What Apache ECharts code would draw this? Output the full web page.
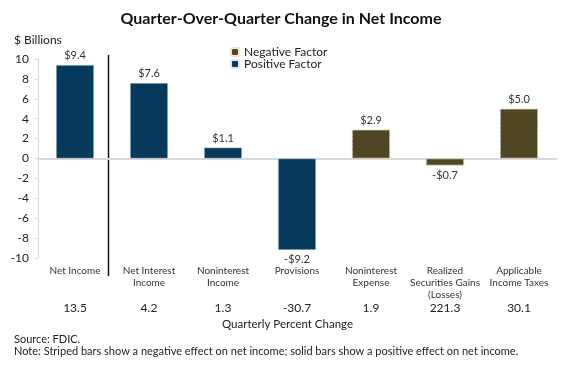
<!DOCTYPE html>
<html>
<head>
<meta charset="utf-8">
<script src="https://cdn.jsdelivr.net/npm/echarts@6/dist/echarts.min.js"></script>
<style>html,body{margin:0;padding:0;background:#fff}#c{width:562px;height:370px}</style>
</head>
<body>
<div id="c"></div>
<script>
const categories = ['Net Income', 'Net Interest\nIncome', 'Noninterest\nIncome', 'Provisions', 'Noninterest\nExpense', 'Realized\nSecurities Gains\n(Losses)', 'Applicable\nIncome Taxes'];
const values = [9.4, 7.6, 1.1, -9.2, 2.9, -0.7, 5.0];
const factors = ['positive', 'positive', 'positive', 'positive', 'negative', 'negative', 'negative'];
const pctChange = ['13.5', '4.2', '1.3', '-30.7', '1.9', '221.3', '30.1'];
const yTicks = { min: -10, max: 10, interval: 2 };

const FONT = 'Lato, "Open Sans", sans-serif';
const NAVY = '#063a5c';
const OLIVE = '#4d4321';

function fmt(v) { return (v < 0 ? '-$' : '$') + Math.abs(v).toFixed(1); }
function seriesData(kind) {
  return values.map((v, i) => factors[i] === kind ? {
    value: v,
    label: { position: v >= 0 ? 'top' : 'bottom' }
  } : '-');
}

const chart = echarts.init(document.getElementById('c'), null, { renderer: 'canvas' });
const labelCommon = {
  show: true, formatter: p => fmt(p.value), fontFamily: FONT, fontSize: 11, color: '#333', distance: 4
};
chart.setOption({
  animation: false,
  textStyle: { fontFamily: FONT },
  title: {
    text: 'Quarter-Over-Quarter Change in Net Income',
    left: 'center', top: 6,
    textStyle: { fontFamily: FONT, fontSize: 16, fontWeight: 'bold', color: '#111' }
  },
  legend: {
    orient: 'vertical', left: 225, top: 41,
    itemWidth: 8, itemHeight: 8, itemGap: 0,
    textStyle: { fontFamily: FONT, fontSize: 12, lineHeight: 12, color: '#222' },
    data: ['Negative Factor', 'Positive Factor']
  },
  grid: { left: 38, right: 6, top: 59, bottom: 112, containLabel: false },
  xAxis: [
    { type: 'category', data: categories, axisLine: { onZero: true, lineStyle: { color: '#d9d9d9', width: 2 } },
      axisTick: { show: false }, axisLabel: { show: false } },
    { type: 'category', data: categories, position: 'bottom', axisLine: { show: false, onZero: false },
      axisTick: { show: false },
      axisLabel: { fontFamily: FONT, fontSize: 10, color: '#333', lineHeight: 12, margin: 7, interval: 0 } },
    { type: 'category', data: pctChange, position: 'bottom', offset: 42, axisLine: { show: false, onZero: false },
      axisTick: { show: false },
      axisLabel: { fontFamily: FONT, fontSize: 12, color: '#222', margin: 2, interval: 0 } }
  ],
  yAxis: {
    type: 'value', min: yTicks.min, max: yTicks.max, interval: yTicks.interval,
    axisLine: { show: true, lineStyle: { color: '#d9d9d9' } },
    axisTick: { show: true, length: 3, lineStyle: { color: '#d9d9d9' } },
    splitLine: { show: false },
    axisLabel: { fontFamily: FONT, fontSize: 12, color: '#222', margin: 9 }
  },
  series: [
    { name: 'Negative Factor', type: 'bar', stack: 'a', barWidth: 38, data: seriesData('negative'),
      itemStyle: { color: OLIVE, borderColor: '#e8e4d8', borderWidth: 0.5,
        decal: { symbol: 'rect', symbolSize: 1, dashArrayX: [1, 0], dashArrayY: [1, 2], rotation: Math.PI / 4, color: 'rgba(90,79,42,0.8)' } },
      label: labelCommon },
    { name: 'Positive Factor', type: 'bar', stack: 'a', barWidth: 38, data: seriesData('positive'),
      itemStyle: { color: NAVY, borderColor: '#dde6ee', borderWidth: 0.5 },
      label: labelCommon }
  ],
  graphic: { elements: [
    { id: 'units', type: 'text', left: 14, top: 34, style: { text: '$ Billions', fontFamily: FONT, fontSize: 12, fill: '#222' } },
    { id: 'pct', type: 'text', left: 222, top: 318, style: { text: 'Quarterly Percent Change', fontFamily: FONT, fontSize: 11.5, fill: '#222' } },
    { id: 'src', type: 'text', left: 14, top: 334, style: { text: 'Source: FDIC.', fontFamily: FONT, fontSize: 11, fill: '#222' } },
    { id: 'note', type: 'text', left: 14, top: 346, style: { text: 'Note: Striped bars show a negative effect on net income; solid bars show a positive effect on net income.', fontFamily: FONT, fontSize: 11, fill: '#222' } }
  ] }
});

const x0 = chart.convertToPixel({ xAxisIndex: 0 }, 0);
const x1 = chart.convertToPixel({ xAxisIndex: 0 }, 1);
const sepX = Math.round(x0 + (x1 - x0) * 0.44) + 0.5;
chart.setOption({
  graphic: { elements: [
    { id: 'sep', type: 'line', shape: { x1: sepX, y1: 55, x2: sepX, y2: 276 }, style: { stroke: '#111', lineWidth: 1.5 } }
  ] }
});
</script>
</body>
</html>
